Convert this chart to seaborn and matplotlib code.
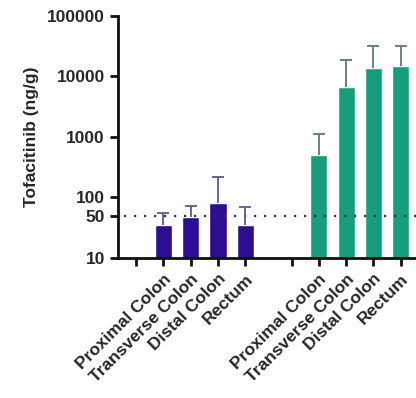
import numpy as np
import pandas as pd
import matplotlib
matplotlib.use("Agg")
import matplotlib.pyplot as plt
import seaborn as sns

# data
regions = ["Proximal Colon", "Transverse Colon", "Distal Colon", "Rectum"]
group_a_mean = [35, 48, 82, 35]
group_a_upper = [55, 72, 215, 69]
group_b_mean = [505, 6800, 14000, 14700]
group_b_upper = [1100, 18700, 32000, 32000]
loq = 50

pos_a = [1, 2, 3, 4]
pos_b = [6.7, 7.7, 8.7, 9.7]
blank_pos = [0, 5.7]

df = pd.DataFrame({
    "pos": pos_a + pos_b,
    "value": group_a_mean + group_b_mean,
    "upper": group_a_upper + group_b_upper,
    "group": ["A"] * 4 + ["B"] * 4,
})

purple = "#2d0d91"
green = "#169e7c"

sns.set_style("ticks")
plt.rcParams["font.family"] = ["Liberation Sans", "DejaVu Sans"]
plt.rcParams["font.weight"] = "bold"

fig = plt.figure(figsize=(4.16, 3.98), dpi=100)
ax = fig.add_axes([0.284, 0.352, 0.716, 0.608])
ax.set_yscale("log")

sns.barplot(data=df, x="pos", y="value", hue="group", native_scale=True,
            dodge=False, palette={"A": purple, "B": green}, width=0.63,
            errorbar=None, legend=False, saturation=1, ax=ax)

# upper-only error bars (line from bar top to cap)
for g, col in [("A", "#5e5a90"), ("B", "#5a7a74")]:
    d = df[df["group"] == g]
    ax.vlines(d["pos"], d["value"], d["upper"], color=col, linewidth=1.3, zorder=3)
    ax.plot(d["pos"], d["upper"], linestyle="none", marker="_", markersize=8,
            markeredgewidth=1.3, color=col, zorder=3)

ax.axhline(loq, xmin=0.02, color="#333333", linestyle=(0, (1, 3.5)), linewidth=1.6, zorder=1)

ax.set_ylim(10, 100000)
ax.set_xlim(-0.66, 10.26)
yt = [10, 50, 100, 1000, 10000, 100000]
ax.set_yticks(yt)
ax.set_yticklabels([str(v) for v in yt], fontsize=12.5, fontweight="bold")
ax.yaxis.set_minor_locator(matplotlib.ticker.NullLocator())

xt = blank_pos[:1] + pos_a + blank_pos[1:] + pos_b
xl = [""] + regions + [""] + regions
ax.set_xticks(xt)
ax.set_xticklabels(xl, rotation=45, ha="right", rotation_mode="anchor",
                   fontsize=12.5, fontweight="bold")

ax.set_xlabel("")
ax.set_ylabel("Tofacitinib (ng/g)", fontsize=12.5, fontweight="bold", labelpad=6)

for s in ["left", "bottom"]:
    ax.spines[s].set_linewidth(2)
    ax.spines[s].set_color("#111111")
sns.despine(ax=ax)
ax.tick_params(axis="both", width=2, length=6, color="#111111")

fig.savefig("out.png", dpi=100)
